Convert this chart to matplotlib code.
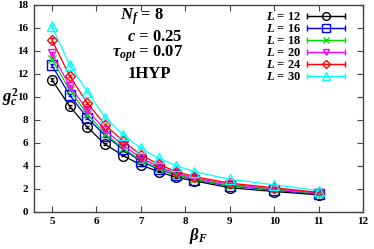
import matplotlib
matplotlib.use("Agg")
import matplotlib.pyplot as plt
from matplotlib.container import ErrorbarContainer
from matplotlib.legend_handler import HandlerErrorbar
import numpy as np

plt.rcParams['font.family'] = ['Liberation Serif', 'DejaVu Serif']
plt.rcParams['mathtext.fontset'] = 'custom'
plt.rcParams['mathtext.it'] = 'Liberation Serif:bold:italic'
plt.rcParams['mathtext.rm'] = 'Liberation Serif:bold'
plt.rcParams['mathtext.bf'] = 'Liberation Serif:bold'
plt.rcParams['mathtext.fallback'] = 'stix'

beta = [5.0, 5.4, 5.8, 6.2, 6.6, 7.0, 7.4, 7.8, 8.2, 9.0, 10.0, 11.0]
L_values = [12, 16, 18, 20, 24, 30]
g12 = [11.5, 9.2, 7.36, 5.88, 4.9, 4.09, 3.5, 3.0, 2.7, 2.1, 1.77, 1.48]
g16 = [12.75, 10.17, 8.15, 6.64, 5.45, 4.4, 3.72, 3.2, 2.8, 2.25, 1.9, 1.55]
g18 = [13.3, 10.6, 8.5, 6.8, 5.55, 4.5, 3.8, 3.25, 2.85, 2.3, 1.95, 1.6]
g20 = [13.8, 10.96, 8.87, 7.1, 5.8, 4.7, 3.95, 3.35, 2.95, 2.4, 2.0, 1.65]
g24 = [14.96, 11.83, 9.45, 7.57, 6.17, 4.96, 4.15, 3.5, 3.07, 2.5, 2.1, 1.7]
g30 = [16.15, 12.8, 10.46, 8.2, 6.7, 5.54, 4.67, 4.03, 3.5, 2.84, 2.35, 1.85]
err = [0.15, 0.12, 0.1, 0.1, 0.08, 0.07, 0.06, 0.05, 0.05, 0.04, 0.04, 0.04]

series = [g12, g16, g18, g20, g24, g30]
colors = ['black', 'blue', '#00dd00', 'magenta', 'red', 'cyan']
markers = ['o', 's', 'x', 'v', 'D', '^']
msizes = [7, 7, 6, 6, 5.5, 6.5]

fig = plt.figure(figsize=(3.74, 2.49), dpi=100)
ax = fig.add_axes([0.091, 0.149, 0.880, 0.831])

handles = []
for L, g, c, m, ms in zip(L_values, series, colors, markers, msizes):
    ax.errorbar(beta, g, yerr=err, color=c, marker=m, ms=ms, mfc='none', mec=c,
                mew=1.0, lw=0.9, capsize=1.5, elinewidth=0.9)
    h = ax.errorbar([np.nan], [np.nan], xerr=[0.0], color=c, marker=m, ms=ms * 0.8,
                    mfc='none', mec=c, mew=1.0, lw=0.9, capsize=2, elinewidth=0.9,
                    label=r'$L$ = %d' % L)
    handles.append(h)

ax.set_xlim(4.6, 12)
ax.set_ylim(0, 18)
ax.set_xticks([5, 6, 7, 8, 9, 10, 11, 12])
ax.set_yticks([0, 2, 4, 6, 8, 10, 12, 14, 16, 18])
ax.tick_params(direction='in', top=True, right=True, length=4, width=0.8,
               labelsize=8, pad=4, colors='#444444', labelcolor='black')
for lab in ax.get_xticklabels() + ax.get_yticklabels():
    lab.set_fontweight('bold')
for s in ax.spines.values():
    s.set_color('#444444')
    s.set_linewidth(1.0)

ax.set_xlabel(r'$\beta_F$', fontsize=12, labelpad=0)
ax.set_ylabel(r'$g_c^2$', fontsize=12, rotation=0)
ax.yaxis.set_label_coords(-0.072, 0.50)

def px(x, y):
    # figure pixel (from top-left) -> figure fraction
    return x / 374.0, 1 - y / 249.0

fs = 12
fig.text(*px(120, 20), r'$N_f$ = 8', ha='left', va='baseline', fontsize=fs, fontweight='bold')
fig.text(*px(183, 41), r'$c$ = 0.25', ha='right', va='baseline', fontsize=fs, fontweight='bold')
fig.text(*px(183, 57), r'$\tau_{opt}$ = 0.07', ha='right', va='baseline', fontsize=fs, fontweight='bold')
fig.text(*px(149, 78), '1HYP', ha='center', va='baseline', fontsize=fs, fontweight='bold')

leg = ax.legend(handles=handles, loc='upper right', bbox_to_anchor=px(351, 5),
                bbox_transform=fig.transFigure,
                frameon=False, markerfirst=False, fontsize=9, handlelength=3.0,
                labelspacing=0.0, borderpad=0.0, handletextpad=0.5,
                handler_map={ErrorbarContainer: HandlerErrorbar(xerr_size=1.5)})
for t in leg.get_texts():
    t.set_fontweight('bold')

fig.savefig('out.png', dpi=100)
